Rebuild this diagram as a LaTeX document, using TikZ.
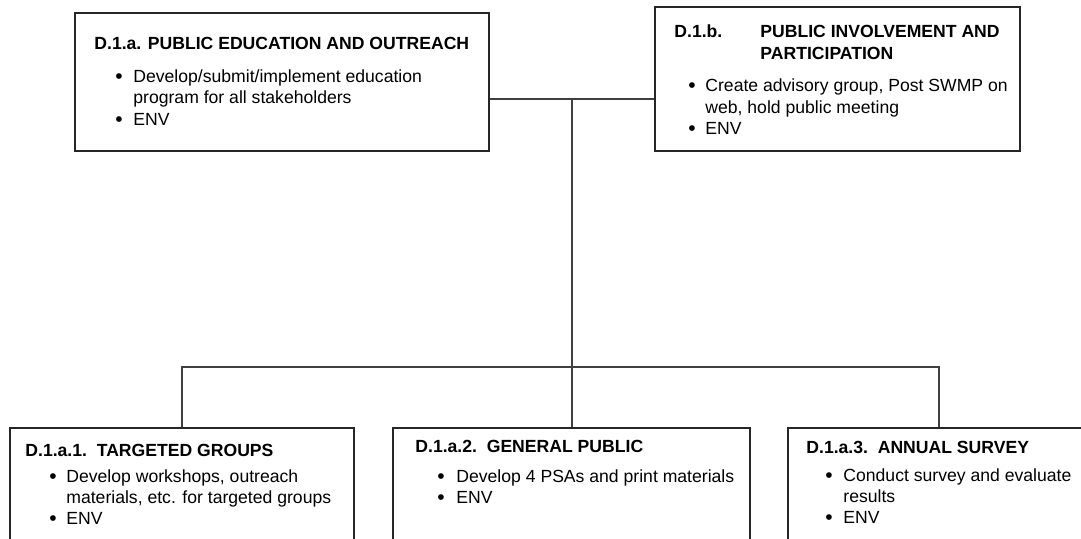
\documentclass[tikz,border=0pt]{standalone}
\usepackage{fontspec}
\setmainfont{Liberation Sans}
\usetikzlibrary{fit}
\newcommand{\fs}{\fontsize{8.8}{10}\selectfont}
\begin{document}
\begin{tikzpicture}[x=0.5pt,y=-0.5pt,
  box/.style={draw=black!85, line width=1pt, inner sep=0pt},
  conn/.style={draw=black!75, line width=0.75pt},
  txt/.style={anchor=base west, inner sep=0pt, font=\fs, text=black},
  hd/.style={txt, font=\fs\bfseries},
  bul/.style={anchor=base, inner sep=0pt, font=\fontsize{10.5}{10}\selectfont, text=black}]
\useasboundingbox (0,0) rectangle (1081,539);
\fill[white] (0,0) rectangle (1081,539);
\clip (0,0) rectangle (1081,539);

% boxes
\node[box, fit={(75,13) (489,151)}] (A) {};
\node[box, fit={(655,7) (1020,151)}] (B) {};
\node[box, fit={(10,428) (354,560)}] (C1) {};
\node[box, fit={(393,428) (750,560)}] (C2) {};
\node[box, fit={(788,428) (1090,560)}] (C3) {};

% connectors
\coordinate (j1) at (572,99);
\coordinate (j2) at (572,367);
\draw[conn] (A.east|-j1) -- (B.west|-j1);
\draw[conn] (j1) -- (j2);
\draw[conn] (C1.north) |- (j2) -| (C3.north);
\draw[conn] (j2) -- (j2|-C2.north);

% box A text
\node[hd] (Ah) at (94,50) {D.1.a. PUBLIC EDUCATION AND OUTREACH};
\node[bul] (Ab1) at (119,84) {•};
\node[txt] (At1) at (133,83) {Develop/submit/implement education};
\node[txt] (At2) at (133,104) {program for all stakeholders};
\node[bul] (Ab2) at (119,127) {•};
\node[txt] (At3) at (133,126) {ENV};

% box B text
\node[hd] (Bh1) at (674,38) {D.1.b.};
\node[hd] (Bh2) at (760,38) {PUBLIC INVOLVEMENT AND};
\node[hd] (Bh3) at (760,60) {PARTICIPATION};
\node[bul] (Bb1) at (692,93) {•};
\node[txt] (Bt1) at (705,92) {Create advisory group, Post SWMP on};
\node[txt] (Bt2) at (705,114) {web, hold public meeting};
\node[bul] (Bb2) at (692,136) {•};
\node[txt] (Bt3) at (705,135) {ENV};

% box C1 text
\node[hd] (C1h) at (25,456) {D.1.a.1.\ \ TARGETED GROUPS};
\node[bul] (C1b1) at (53,483) {•};
\node[txt] (C1t1) at (66,482) {Develop workshops, outreach};
\node[txt] (C1t2) at (66,503) {materials, etc. for targeted groups};
\node[bul] (C1b2) at (53,525) {•};
\node[txt] (C1t3) at (66,524) {ENV};

% box C2 text
\node[hd] (C2h) at (415,452) {D.1.a.2.\ \ GENERAL PUBLIC};
\node[bul] (C2b1) at (441,483) {•};
\node[txt] (C2t1) at (456,482) {Develop 4 PSAs and print materials};
\node[bul] (C2b2) at (441,504) {•};
\node[txt] (C2t2) at (456,503) {ENV};

% box C3 text
\node[hd] (C3h) at (806,453) {D.1.a.3.\ \ ANNUAL SURVEY};
\node[bul] (C3b1) at (829,482) {•};
\node[txt] (C3t1) at (843,481) {Conduct survey and evaluate};
\node[txt] (C3t2) at (843,502) {results};
\node[bul] (C3b2) at (829,524) {•};
\node[txt] (C3t3) at (843,523) {ENV};
\end{tikzpicture}
\end{document}
